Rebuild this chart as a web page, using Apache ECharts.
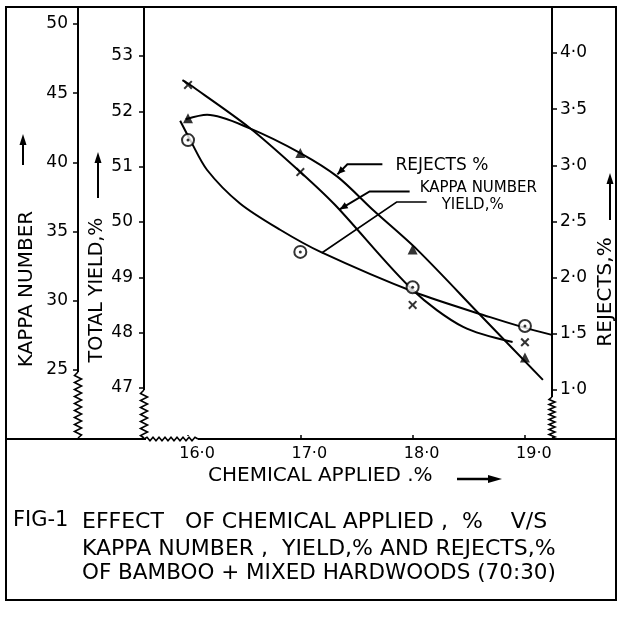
<!DOCTYPE html>
<html><head><meta charset="utf-8">
<script src="https://cdn.jsdelivr.net/npm/echarts@6/dist/echarts.min.js"></script>
<style>html,body{margin:0;padding:0;background:#fff}#c{width:626px;height:618px}</style>
</head><body><div id="c"></div>
<script>
// ---- data ----
const chemical = [16.0, 17.0, 18.0, 19.0];
const kappaPoints = [45.6, 39.3, 29.7, 27.0];
const yieldPoints = [51.48, 49.46, 48.82, 48.12];
const rejectsPoints = [3.42, 3.11, 2.25, 1.29];
// hand-drawn fitted curves (chemical %, value)
const kappaCurveX = [15.95, 16.02, 16.55, 17.00, 17.31, 18.00, 18.45, 18.89];
const kappaCurveY = [45.95, 45.59, 42.49, 39.31, 36.92, 30.78, 28.11, 27.02];
const yieldCurveX = [15.93, 16.02, 16.17, 16.46, 16.82, 17.18, 18.02, 18.69, 18.98, 19.24];
const yieldCurveY = [51.83, 51.48, 50.94, 50.34, 49.86, 49.46, 48.73, 48.28, 48.10, 47.96];
const rejectsCurveX = [15.98, 16.17, 16.55, 17.00, 17.33, 17.65, 18.04, 18.60, 19.16];
const rejectsCurveY = [3.41, 3.45, 3.33, 3.11, 2.90, 2.60, 2.25, 1.67, 1.09];
// tick labels
const xTicks = [16, 17, 18, 19];
const kappaTicks = [25, 30, 35, 40, 45, 50];
const yieldTicks = [47, 48, 49, 50, 51, 52, 53];
const rejectsTicks = [1.0, 1.5, 2.0, 2.5, 3.0, 3.5, 4.0];
// texts
const kappaTitle = 'KAPPA NUMBER';
const yieldTitle = 'TOTAL YIELD,%';
const rejectsTitle = 'REJECTS,%';
const xTitle = 'CHEMICAL APPLIED .%';
const captionLines = ['EFFECT   OF CHEMICAL APPLIED ,  %    V/S', 'KAPPA NUMBER ,  YIELD,% AND REJECTS,%', 'OF BAMBOO + MIXED HARDWOODS (70:30)'];
const figLabel = 'FIG-1';
const legendLabels = ['REJECTS %', 'KAPPA NUMBER', 'YIELD,%'];

const FONT = '"DejaVu Sans", sans-serif';
const dot = v => v.toFixed(1).replace('.', '\u00B7');
const zip = (xs, ys) => xs.map((x, i) => [x, ys[i]]);

const chart = echarts.init(document.getElementById('c'), null, {renderer: 'canvas'});

const axisCommon = (ticks, fmt, margin) => ({
  type: 'value',
  splitLine: {show: false},
  axisLine: {show: true, lineStyle: {color: '#000', width: 2}},
  axisTick: {show: true, length: 5, lineStyle: {color: '#000', width: 1.5}, customValues: ticks},
  axisLabel: {color: '#000', fontSize: 17, fontFamily: FONT, margin: margin, customValues: ticks, formatter: fmt}
});

const curveStyle = {color: '#000', width: 2};
const option = {
  backgroundColor: '#fff',
  animation: false,
  grid: {left: 144, right: 74, top: 7, bottom: 179, containLabel: false, outerBoundsMode: 'none'},
  xAxis: Object.assign(axisCommon(xTicks, v => dot(v), 8), {
    min: 15.608, max: 19.241,
    axisTick: {show: true, inside: true, length: 4, lineStyle: {color: '#000', width: 1.5}, customValues: xTicks},
    axisLabel: {color: '#000', fontSize: 16, fontFamily: FONT, margin: 7, customValues: xTicks, formatter: v => dot(v), padding: [0, 0, 0, 18]}
  }),
  yAxis: [
    Object.assign(axisCommon(yieldTicks, v => String(v), 11), {position: 'left', offset: 0, min: 46.078, max: 53.886}),
    Object.assign(axisCommon(kappaTicks, v => String(v), 10), {position: 'left', offset: 66, min: 20.01, max: 51.23}),
    Object.assign(axisCommon(rejectsTicks, v => dot(v), 8), {position: 'right', offset: 0, min: 0.564, max: 4.41})
  ],
  series: [
    {type: 'line', name: 'Kappa curve', yAxisIndex: 1, data: zip(kappaCurveX, kappaCurveY), smooth: 0.3, showSymbol: false, lineStyle: curveStyle, z: 2},
    {type: 'line', name: 'Yield curve', yAxisIndex: 0, data: zip(yieldCurveX, yieldCurveY), smooth: 0.3, showSymbol: false, lineStyle: curveStyle, z: 2},
    {type: 'line', name: 'Rejects curve', yAxisIndex: 2, data: zip(rejectsCurveX, rejectsCurveY), smooth: 0.3, showSymbol: false, lineStyle: curveStyle, z: 2},
    {type: 'scatter', name: 'Kappa number', yAxisIndex: 1, data: zip(chemical, kappaPoints),
      symbol: 'path://M0,1.6L1.6,0L5,3.4L8.4,0L10,1.6L6.6,5L10,8.4L8.4,10L5,6.6L1.6,10L0,8.4L3.4,5Z', symbolSize: 9, itemStyle: {color: '#000'}, z: 5},
    {type: 'scatter', name: 'Yield', yAxisIndex: 0, data: zip(chemical, yieldPoints),
      symbol: 'circle', symbolSize: 12, itemStyle: {color: '#fff', borderColor: '#000', borderWidth: 2}, z: 5},
    {type: 'scatter', name: 'Yield dot', yAxisIndex: 0, data: zip(chemical, yieldPoints),
      symbol: 'circle', symbolSize: 3, itemStyle: {color: '#000'}, z: 6},
    {type: 'scatter', name: 'Rejects', yAxisIndex: 2, data: zip(chemical, rejectsPoints),
      symbol: 'triangle', symbolSize: 10, itemStyle: {color: '#000'}, z: 5}
  ]
};
chart.setOption(option);

// ---- decorations ----
const G = [];
const Z = 100;
function line(pts, w) { G.push({type: 'polyline', z: Z, shape: {points: pts}, style: {stroke: '#000', lineWidth: w || 2, fill: null}}); }
function poly(pts) { G.push({type: 'polygon', z: Z, shape: {points: pts}, style: {fill: '#000'}}); }
function mask(x, y, w, h) { G.push({type: 'rect', z: Z, shape: {x, y, width: w, height: h}, style: {fill: '#fff'}}); }
function text(t, x, y, size, opts) {
  opts = opts || {};
  G.push({type: 'text', z: Z, x, y, rotation: opts.rot || 0,
    style: {text: t, fill: '#000', font: (opts.weight || 'normal') + ' ' + size + 'px ' + FONT, align: opts.align || 'left', verticalAlign: 'middle'}});
}
function vzig(x, y0, y1, amp, step) {
  const pts = [[x, y0]]; let i = 0;
  for (let y = y0 + step / 2; y < y1; y += step / 2) { pts.push([x + (i % 2 ? amp : -amp), y]); i++; }
  pts.push([x, y1]); return pts;
}
function hzig(y, x0, x1, amp, step) {
  const pts = [[x0, y]]; let i = 0;
  for (let x = x0 + step / 2; x < x1; x += step / 2) { pts.push([x, y + (i % 2 ? amp : -amp)]); i++; }
  pts.push([x1, y]); return pts;
}
function arrowHead(tip, from, len, half) {
  const dx = tip[0] - from[0], dy = tip[1] - from[1];
  const d = Math.hypot(dx, dy), ux = dx / d, uy = dy / d;
  const bx = tip[0] - ux * len, by = tip[1] - uy * len;
  poly([tip, [bx - uy * half, by + ux * half], [bx + uy * half, by - ux * half]]);
}

// outer frame and separator
G.push({type: 'rect', z: Z, shape: {x: 6, y: 7, width: 610, height: 593}, style: {stroke: '#000', lineWidth: 2, fill: null}});
line([[6, 439], [616, 439]], 2);

// axis breaks
mask(74, 372, 8, 66); line(vzig(78, 372, 438, 3.5, 7), 1.6);
mask(140, 390, 8, 48); line(vzig(144, 390, 438, 3.5, 7), 1.6);
mask(548, 397, 8, 41); line(vzig(552, 397, 438, 3, 5), 1.6);
mask(146, 436, 52, 6); line(hzig(439, 144, 198, 1.8, 6), 1.6);

// axis titles with arrows
text(kappaTitle, 27, 289, 20, {rot: Math.PI / 2, align: 'center'});
line([[23, 165], [23, 142]], 2); poly([[23, 134], [19.5, 145], [26.5, 145]]);
text(yieldTitle, 97, 290, 19, {rot: Math.PI / 2, align: 'center'});
line([[98, 198], [98, 160]], 2); poly([[98, 152], [94.5, 163], [101.5, 163]]);
text(rejectsTitle, 606, 292, 20, {rot: Math.PI / 2, align: 'center'});
line([[610, 220], [610, 181]], 2); poly([[610, 173], [606.5, 184], [613.5, 184]]);

// x title and arrow
text(xTitle, 208, 476, 20);
line([[457, 479], [490, 479]], 2.5); poly([[502, 479], [488, 475], [488, 483]]);

// caption
text(figLabel, 13, 521, 21);
text(captionLines[0], 82, 522, 22);
text(captionLines[1], 82, 549, 22);
text(captionLines[2], 82, 573, 21.5);

// leaders to the curves
const P = (x, y, yi) => chart.convertToPixel({xAxisIndex: 0, yAxisIndex: yi}, [x, y]);
const tipR = P(17.33, 2.92, 2);
const tipK = P(17.35, 36.6, 1);
const tipY = P(17.19, 49.44, 0);
let e = [tipR[0] + 10, tipR[1] - 10]; line([tipR, e, [e[0] + 35, e[1]]], 2); arrowHead(tipR, e, 8, 3.5);
text(legendLabels[0], e[0] + 48, e[1] + 1, 17);
e = [tipK[0] + 30, tipK[1] - 18]; line([tipK, e, [e[0] + 40, e[1]]], 2); arrowHead(tipK, e, 8, 3.5);
text(legendLabels[1], e[0] + 50, e[1] - 3, 15);
e = [tipY[0] + 75, tipY[1] - 51]; line([tipY, e, [e[0] + 30, e[1]]], 1.6);
text(legendLabels[2], e[0] + 45, e[1] + 3, 15);

chart.setOption({graphic: {elements: G}});
</script></body></html>
